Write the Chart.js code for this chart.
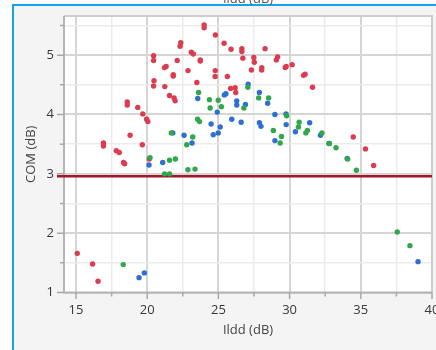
<!DOCTYPE html>
<html><head><meta charset="utf-8">
<script src="https://cdn.jsdelivr.net/npm/chart.js@4.4.0/dist/chart.umd.min.js"></script>
<style>
html,body{margin:0;padding:0;background:#fff;width:436px;height:350px;overflow:hidden;}
#frame{position:absolute;left:12px;top:4px;width:440px;height:360px;border-left:2px solid #13a5e6;border-top:2px solid #13a5e6;background:#f4f4f4;}
#wrap{position:absolute;left:0;top:0;width:436px;height:350px;}
</style></head><body>
<div id="frame"></div>
<div id="wrap"><canvas id="c" width="436" height="350"></canvas></div>
<script>
const xTitle = 'Ildd (dB)';
const yTitle = 'COM (dB)';
const xTickValues = [15,17.5,20,22.5,25,27.5,30,32.5,35,37.5,40];
const yTickValues = [1,1.5,2,2.5,3,3.5,4,4.5,5,5.5];
const xRange = [14.16, 40];
const yRange = [1, 5.66];
const refLineValue = [2.96];

const redX = [24.00,24.00,24.79,25.40,25.89,26.65,26.65,26.72,28.28,22.36,22.31,23.10,23.24,23.73,23.73,20.45,20.45,22.11,21.33,21.21,21.83,21.83,22.87,24.78,24.77,25.63,27.32,28.05,28.04,27.49,27.52,29.16,29.07,29.69,29.76,30.18,30.98,31.09,31.61,20.48,20.45,21.24,23.49,21.57,21.89,21.96,25.86,26.18,26.22,18.60,18.60,19.34,19.69,19.96,20.05,18.80,19.66,16.93,16.93,17.83,18.04,18.34,18.42,20.15,34.47,35.33,35.90,15.09,16.17,16.55];
const redY = [5.51,5.46,5.34,5.20,5.10,5.11,5.06,4.95,5.11,5.21,5.15,5.05,5.02,4.92,4.90,4.99,4.91,4.91,4.81,4.79,4.67,4.65,4.74,4.74,4.64,4.64,4.75,4.79,4.75,4.96,4.88,4.97,4.92,4.79,4.81,4.84,4.66,4.68,4.46,4.57,4.48,4.47,4.54,4.32,4.28,4.23,4.44,4.45,4.37,4.21,4.16,4.12,4.01,3.92,3.88,3.65,3.49,3.52,3.47,3.39,3.36,3.19,3.17,3.25,3.62,3.42,3.14,1.66,1.48,1.19];

const blueX = [27.09,23.55,25.42,25.53,26.29,26.29,26.90,27.88,28.46,24.92,25.94,26.60,24.49,25.13,24.99,24.64,21.80,22.59,23.15,28.97,29.75,27.88,27.99,29.76,31.41,30.41,32.17,28.97,32.76,34.04,20.13,21.09,19.80,19.43,39.02];
const blueY = [4.51,4.27,4.33,4.35,4.23,4.16,4.17,4.37,4.19,4.04,3.92,3.87,3.84,3.79,3.69,3.66,3.69,3.65,3.52,4.00,4.01,3.86,3.80,3.83,3.86,3.71,3.65,3.56,3.51,3.26,3.15,3.19,1.33,1.25,1.52];

const greenX = [27.07,23.61,24.37,24.99,24.42,25.21,26.79,27.83,28.53,23.54,23.68,21.69,23.20,22.78,20.20,21.57,21.98,21.22,21.57,22.86,23.36,29.79,30.67,30.62,31.25,31.14,32.27,28.86,29.43,29.34,32.80,33.26,34.08,34.69,18.32,37.56,38.45];
const greenY = [4.46,4.37,4.25,4.24,4.11,4.13,4.11,4.28,4.28,3.92,3.88,3.69,3.62,3.49,3.27,3.23,3.25,3.00,3.00,3.07,3.08,3.98,3.87,3.79,3.73,3.69,3.69,3.73,3.63,3.52,3.51,3.44,3.25,3.06,1.47,2.02,1.79];

const pts = (xs, ys) => xs.map((x, i) => ({x: x, y: ys[i]}));

const FONT = '"Open Sans", sans-serif';
Chart.defaults.font.family = FONT;
Chart.defaults.font.size = 13;

const isMajorX = v => Math.abs(v % 5) < 1e-6;
const isMajorY = v => Math.abs(v - Math.round(v)) < 1e-6;

const decor = {
  id: 'decor',
  beforeDraw(chart) {
    const {ctx, chartArea: a} = chart;
    ctx.save();
    ctx.fillStyle = '#ffffff';
    ctx.fillRect(a.left, a.top, a.right - a.left, a.bottom - a.top);
    ctx.fillStyle = '#555555';
    ctx.font = '13px ' + FONT;
    ctx.textAlign = 'center';
    ctx.textBaseline = 'alphabetic';
    ctx.fillText(xTitle, (a.left + a.right) / 2, 3);
    ctx.restore();
  },
  beforeDatasetsDraw(chart) {
    const {ctx, chartArea: a, scales} = chart;
    const xs = scales.x, ys = scales.y;
    ctx.save();
    ctx.lineWidth = 2;
    ctx.strokeStyle = '#cdcdcd';
    ctx.beginPath();
    ctx.moveTo(a.left, a.top); ctx.lineTo(a.right, a.top); ctx.lineTo(a.right, a.bottom);
    ctx.stroke();
    ctx.strokeStyle = '#b5b5b5';
    ctx.beginPath();
    ctx.moveTo(a.left, a.top); ctx.lineTo(a.left, a.bottom); ctx.lineTo(a.right, a.bottom);
    ctx.stroke();
    ctx.lineWidth = 1.5;
    ctx.strokeStyle = '#a8a8a8';
    ctx.beginPath();
    xTickValues.forEach(v => {
      const p = xs.getPixelForValue(v);
      const len = isMajorX(v) ? 6.5 : 4;
      ctx.moveTo(p, a.bottom); ctx.lineTo(p, a.bottom + len);
    });
    yTickValues.forEach(v => {
      const p = ys.getPixelForValue(v);
      const len = isMajorY(v) ? 7 : 4;
      ctx.moveTo(a.left, p); ctx.lineTo(a.left - len, p);
    });
    ctx.stroke();
    const ry = ys.getPixelForValue(refLineValue[0]);
    ctx.strokeStyle = '#a3172b';
    ctx.lineWidth = 2.5;
    ctx.beginPath();
    ctx.moveTo(a.left - 7, ry); ctx.lineTo(a.right, ry);
    ctx.stroke();
    ctx.restore();
  }
};

new Chart(document.getElementById('c'), {
  type: 'scatter',
  data: {
    datasets: [
      {label: 'green', data: pts(greenX, greenY), backgroundColor: '#2fa74a'},
      {label: 'blue', data: pts(blueX, blueY), backgroundColor: '#2f6fd2'},
      {label: 'red', data: pts(redX, redY), backgroundColor: '#dc3c50'}
    ]
  },
  options: {
    responsive: false,
    animation: false,
    devicePixelRatio: 1,
    layout: {padding: {left: 0, right: 4, top: 16, bottom: 0}},
    elements: {point: {radius: 2.7, borderWidth: 0, hoverRadius: 2.7}},
    plugins: {legend: {display: false}, tooltip: {enabled: false}},
    scales: {
      x: {
        type: 'linear', min: xRange[0], max: xRange[1],
        afterBuildTicks: s => { s.ticks = xTickValues.map(v => ({value: v})); },
        afterFit: s => { s.height = 57.5; s.paddingLeft = 0; s.paddingRight = 0; },
        ticks: {autoSkip: false, maxRotation: 0, padding: 10, color: '#383838', font: {size: 13},
          callback: v => isMajorX(v) ? String(v) : ''},
        grid: {drawTicks: false,
          color: c => (c.tick && isMajorX(c.tick.value)) ? '#d5d5d5' : '#ebebeb',
          lineWidth: c => (c.tick && isMajorX(c.tick.value)) ? 2 : 1.5},
        border: {display: false},
        title: {display: true, text: xTitle, color: '#444', font: {size: 13}, padding: {top: 0, bottom: 12}}
      },
      y: {
        type: 'linear', min: yRange[0], max: yRange[1],
        afterBuildTicks: s => { s.ticks = yTickValues.map(v => ({value: v})); },
        afterFit: s => { s.width = 64; s.paddingTop = 0; s.paddingBottom = 0; },
        ticks: {autoSkip: false, padding: 10, color: '#383838', font: {size: 13},
          callback: v => isMajorY(v) ? String(v) : ''},
        grid: {drawTicks: false,
          color: c => (c.tick && isMajorY(c.tick.value)) ? '#d5d5d5' : '#ebebeb',
          lineWidth: c => (c.tick && isMajorY(c.tick.value)) ? 2 : 1.5},
        border: {display: false},
        title: {display: true, text: yTitle, color: '#444', font: {size: 13}, padding: {top: 23, bottom: 0}}
      }
    }
  },
  plugins: [decor]
});
</script>
</body></html>
